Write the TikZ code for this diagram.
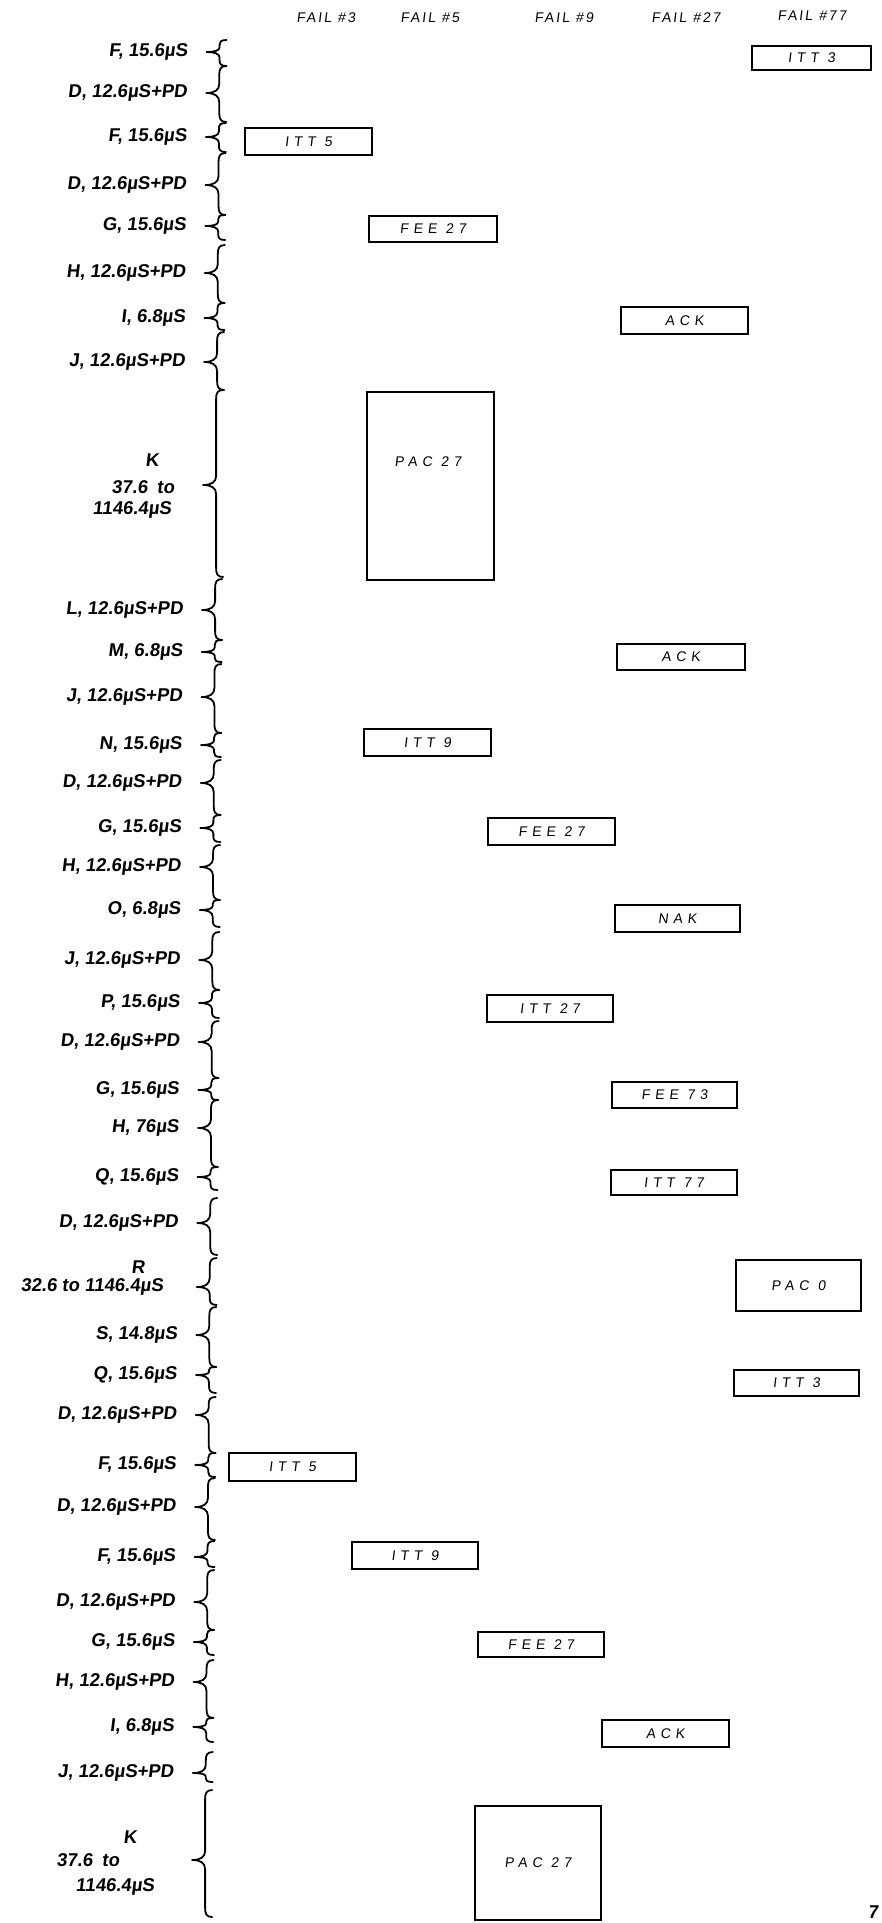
\documentclass[tikz,border=0pt]{standalone}
\usepackage{fontspec}
\setmainfont{Liberation Sans}[FakeSlant=0.12]
\newfontfamily\boxfont{Liberation Sans}[FakeSlant=0.12,LetterSpace=35]
\newfontfamily\hdrfont{Liberation Sans}[FakeSlant=0.12,LetterSpace=15]
\newcommand\bx[6]{\node[bx, minimum width={(#4)-(#2)}, minimum height={(#5)-(#3)}] (#1) at ({((#2)+(#4))/2},{((#3)+(#5))/2}) {#6};}
\newcommand\lb[3]{\node[lbl] (#1) at ({188-0.008*(#2)},#2) {#3};}
\newcommand\brc[3]{%
 \pgfmathsetmacro\ha{min(9,0.4*((#2)-(#1)))}%
 \pgfmathsetmacro\hb{min(9,0.4*((#3)-(#2)))}%
 \pgfmathsetmacro\dx{-0.008*(#2)}%
 \begin{scope}[xshift=\dx]
 \draw[brc] (227,#1) .. controls (221,#1) and (220,{#1+0.4*\ha}) .. (220,{#1+\ha})
   -- (220,{#2-\ha}) .. controls (220,{#2-0.3*\ha}) and (215,#2) .. (207,#2)
   .. controls (215,#2) and (220,{#2+0.3*\hb}) .. (220,{#2+\hb})
   -- (220,{#3-\hb}) .. controls (220,{#3-0.4*\hb}) and (221,#3) .. (227,#3);
 \end{scope}}
\begin{document}
\begin{tikzpicture}[x=1pt,y=-1pt,
  bx/.style={draw, line width=2.2pt, inner sep=0pt, outer sep=0pt, font=\boxfont\fontsize{14}{14}\selectfont},
  txt/.style={inner sep=0pt, font=\boxfont\fontsize{14}{14}\selectfont},
  lbl/.style={anchor=east, inner sep=0pt, font=\bfseries\fontsize{18.5}{18.5}\selectfont},
  klbl/.style={inner sep=0pt, font=\bfseries\fontsize{18.5}{18.5}\selectfont},
  hdr/.style={inner sep=0pt, font=\hdrfont\fontsize{14}{14}\selectfont},
  brc/.style={line width=1.8pt, line cap=round, line join=round}]
\useasboundingbox (0,0) rectangle (882,1923);
\fill[white] (0,0) rectangle (882,1923);
% headers
\node[hdr] (h3) at (326,18) {FAIL \#3};
\node[hdr] (h5) at (430,18) {FAIL \#5};
\node[hdr] (h9) at (564,18) {FAIL \#9};
\node[hdr] (h27) at (686,18) {FAIL \#27};
\node[hdr] (h77) at (812,16) {FAIL \#77};
% braces
\brc{40}{52}{66}
\brc{66}{93}{122}
\brc{123}{137}{152}
\brc{153}{185}{215}
\brc{215}{226}{240}
\brc{245}{273}{303}
\brc{303}{318}{330}
\brc{332}{362}{390}
\brc{390}{485}{577}
\brc{579}{610}{640}
\brc{640}{652}{662}
\brc{664}{697}{733}
\brc{733}{745}{757}
\brc{760}{783}{815}
\brc{815}{828}{842}
\brc{845}{867}{900}
\brc{900}{910}{927}
\brc{932}{960}{990}
\brc{990}{1003}{1018}
\brc{1021}{1042}{1078}
\brc{1078}{1090}{1100}
\brc{1100}{1128}{1167}
\brc{1167}{1177}{1190}
\brc{1198}{1223}{1255}
\brc{1258}{1287}{1305}
\brc{1307}{1335}{1367}
\brc{1367}{1375}{1393}
\brc{1397}{1415}{1453}
\brc{1453}{1465}{1477}
\brc{1478}{1507}{1540}
\brc{1541}{1557}{1567}
\brc{1570}{1602}{1630}
\brc{1630}{1642}{1655}
\brc{1660}{1682}{1718}
\brc{1718}{1727}{1742}
\brc{1752}{1773}{1782}
\brc{1790}{1860}{1917}
% labels
\lb{l1}{52}{F, 15.6µS}
\lb{l2}{93}{D, 12.6µS+PD}
\lb{l3}{137}{F, 15.6µS}
\lb{l4}{185}{D, 12.6µS+PD}
\lb{l5}{226}{G, 15.6µS}
\lb{l6}{273}{H, 12.6µS+PD}
\lb{l7}{318}{I, 6.8µS}
\lb{l8}{362}{J, 12.6µS+PD}
\node[klbl] (l9a) at (152,460) {K};
\node[klbl] (l9b) at (143,487) {37.6\enspace to};
\node[klbl] (l9c) at (132,510) {1146.4µS};
\lb{l10}{610}{L, 12.6µS+PD}
\lb{l11}{652}{M, 6.8µS}
\lb{l12}{697}{J, 12.6µS+PD}
\lb{l13}{745}{N, 15.6µS}
\lb{l14}{783}{D, 12.6µS+PD}
\lb{l15}{828}{G, 15.6µS}
\lb{l16}{867}{H, 12.6µS+PD}
\lb{l17}{910}{O, 6.8µS}
\lb{l18}{960}{J, 12.6µS+PD}
\lb{l19}{1003}{P, 15.6µS}
\lb{l20}{1042}{D, 12.6µS+PD}
\lb{l21}{1090}{G, 15.6µS}
\lb{l22}{1128}{H, 76µS}
\lb{l23}{1177}{Q, 15.6µS}
\lb{l24}{1223}{D, 12.6µS+PD}
\node[klbl] (l25a) at (138,1267) {R};
\node[klbl] (l25b) at (92,1287) {32.6 to 1146.4µS};
\lb{l26}{1335}{S, 14.8µS}
\lb{l27}{1375}{Q, 15.6µS}
\lb{l28}{1415}{D, 12.6µS+PD}
\lb{l29}{1465}{F, 15.6µS}
\lb{l30}{1507}{D, 12.6µS+PD}
\lb{l31}{1557}{F, 15.6µS}
\lb{l32}{1602}{D, 12.6µS+PD}
\lb{l33}{1642}{G, 15.6µS}
\lb{l34}{1682}{H, 12.6µS+PD}
\lb{l35}{1727}{I, 6.8µS}
\lb{l36}{1773}{J, 12.6µS+PD}
\node[klbl] (l37a) at (130,1837) {K};
\node[klbl] (l37b) at (88,1860) {37.6\enspace to};
\node[klbl] (l37c) at (115,1887) {1146.4µS};
% boxes
\bx{b1}{752}{46}{871}{70}{ITT 3}
\bx{b2}{245}{128}{372}{155}{ITT 5}
\bx{b3}{369}{216}{497}{242}{FEE 27}
\bx{b4}{621}{307}{748}{334}{ACK}
\bx{b5}{367}{392}{494}{580}{}
\node[txt] (t5) at (428,462) {PAC 27};
\bx{b6}{617}{644}{745}{670}{ACK}
\bx{b7}{364}{729}{491}{756}{ITT 9}
\bx{b8}{488}{818}{615}{845}{FEE 27}
\bx{b9}{615}{905}{740}{932}{NAK}
\bx{b10}{487}{995}{613}{1022}{ITT 27}
\bx{b11}{612}{1082}{737}{1108}{FEE 73}
\bx{b12}{611}{1170}{737}{1195}{ITT 77}
\bx{b13}{736}{1260}{861}{1311}{PAC 0}
\bx{b14}{734}{1370}{859}{1396}{ITT 3}
\bx{b15}{229}{1453}{356}{1481}{ITT 5}
\bx{b16}{352}{1542}{478}{1569}{ITT 9}
\bx{b17}{478}{1632}{604}{1657}{FEE 27}
\bx{b18}{602}{1720}{729}{1747}{ACK}
\bx{b19}{475}{1806}{601}{1920}{PAC 27}
\node[klbl] (pg) at (873,1912) {7};
\end{tikzpicture}
\end{document}
